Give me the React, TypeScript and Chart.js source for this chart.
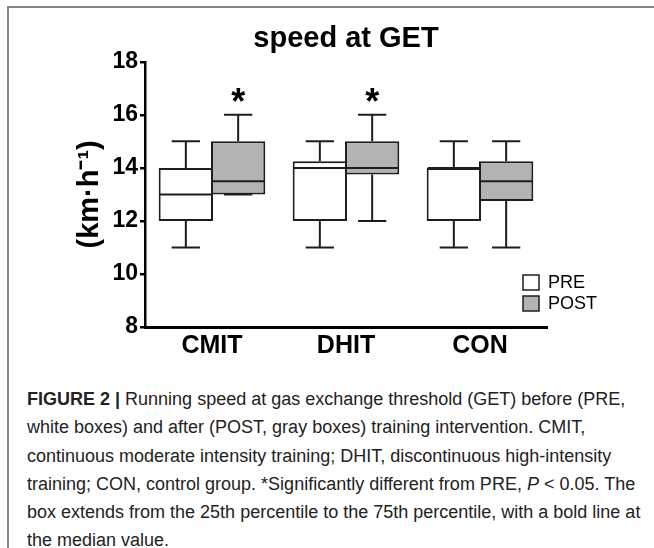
import React, { useEffect, useRef } from 'react';
import { Chart, registerables } from 'chart.js';

Chart.register(...registerables);

// ---- data ----
const chartTitle = 'speed at GET';
const yAxisTitle = '(km·h⁻¹)';
const categories = ['CMIT', 'DHIT', 'CON'];
const seriesLabels = ['PRE', 'POST'];
const yMin = 8;
const yMax = 18;
const yStep = 2;

const preMin = [11, 11, 11];
const preQ1 = [12, 12, 12];
const preMedian = [13, 14, 14];
const preQ3 = [14, 14.25, 14];
const preMax = [15, 15, 15];

const postMin = [13, 12, 11];
const postQ1 = [13, 13.75, 12.75];
const postMedian = [13.5, 14, 13.5];
const postQ3 = [15, 15, 14.25];
const postMax = [16, 16, 15];

const preSignificant = [false, false, false];
const postSignificant = [true, true, false];

const captionLines = [
  'Running speed at gas exchange threshold (GET) before (PRE,',
  'white boxes) and after (POST, gray boxes) training intervention. CMIT,',
  'continuous moderate intensity training; DHIT, discontinuous high-intensity',
  'training; CON, control group. *Significantly different from PRE, ',
  'box extends from the 25th percentile to the 75th percentile, with a bold line at',
  'the median value.',
];

// ---- styles ----
const FONT = '"Liberation Sans", Arial, Helvetica, sans-serif';
const INK = '#1e1e1e';
const PRE_FILL = '#ffffff';
const POST_FILL = '#b3b3b3';

const boxStats = [
  { min: preMin, q1: preQ1, med: preMedian, q3: preQ3, max: preMax, sig: preSignificant },
  { min: postMin, q1: postQ1, med: postMedian, q3: postQ3, max: postMax, sig: postSignificant },
];

const boxPlugin = {
  id: 'boxWhiskers',
  beforeDatasetsDraw(chart: any) {
    const ctx = chart.ctx;
    const y = chart.scales.y;
    ctx.save();
    ctx.strokeStyle = INK;
    ctx.lineWidth = 2;
    chart.data.datasets.forEach((_: any, di: number) => {
      const meta = chart.getDatasetMeta(di);
      const s = boxStats[di];
      meta.data.forEach((el: any, i: number) => {
        const x = el.x;
        const cap = el.width * 0.26;
        const pMax = y.getPixelForValue(s.max[i]);
        const pQ3 = y.getPixelForValue(s.q3[i]);
        const pQ1 = y.getPixelForValue(s.q1[i]);
        const pMin = y.getPixelForValue(s.min[i]);
        ctx.beginPath();
        ctx.moveTo(x, pQ3);
        ctx.lineTo(x, pMax);
        ctx.moveTo(x - cap, pMax);
        ctx.lineTo(x + cap, pMax);
        ctx.moveTo(x, pQ1);
        ctx.lineTo(x, pMin);
        ctx.moveTo(x - cap, pMin);
        ctx.lineTo(x + cap, pMin);
        ctx.stroke();
      });
    });
    ctx.restore();
  },
  afterDatasetsDraw(chart: any) {
    const ctx = chart.ctx;
    const y = chart.scales.y;
    const area = chart.chartArea;
    ctx.save();
    chart.data.datasets.forEach((ds: any, di: number) => {
      const meta = chart.getDatasetMeta(di);
      const s = boxStats[di];
      meta.data.forEach((el: any, i: number) => {
        const half = el.width / 2;
        const pMed = y.getPixelForValue(s.med[i]);
        ctx.strokeStyle = INK;
        ctx.lineWidth = 2;
        ctx.beginPath();
        ctx.moveTo(el.x - half + 1, pMed);
        ctx.lineTo(el.x + half - 1, pMed);
        ctx.stroke();
        if (s.sig[i]) {
          ctx.fillStyle = '#000';
          ctx.font = `bold 36px ${FONT}`;
          ctx.textAlign = 'center';
          ctx.textBaseline = 'alphabetic';
          ctx.fillText('*', el.x, y.getPixelForValue(s.max[i]) - 1);
        }
      });
      // legend entry
      const lx = area.right - 24;
      const ly = area.bottom - 52 + di * 21;
      ctx.fillStyle = ds.backgroundColor;
      ctx.fillRect(lx, ly, 16, 15);
      ctx.strokeStyle = INK;
      ctx.lineWidth = 1.5;
      ctx.strokeRect(lx, ly, 16, 15);
      ctx.fillStyle = '#000';
      ctx.font = `18px ${FONT}`;
      ctx.textAlign = 'left';
      ctx.textBaseline = 'middle';
      ctx.fillText(ds.label, lx + 25, ly + 8);
    });
    ctx.restore();
  },
};

function BoxChart() {
  const ref = useRef<HTMLCanvasElement | null>(null);
  useEffect(() => {
    if (!ref.current) return;
    const chart = new Chart(ref.current, {
      type: 'bar',
      data: {
        labels: categories,
        datasets: [
          {
            label: seriesLabels[0],
            data: categories.map((_, i) => [preQ1[i], preQ3[i]]) as any,
            backgroundColor: PRE_FILL,
            borderColor: INK,
            borderWidth: 2,
            borderSkipped: false,
            categoryPercentage: 0.781,
            barPercentage: 1.038,
          },
          {
            label: seriesLabels[1],
            data: categories.map((_, i) => [postQ1[i], postQ3[i]]) as any,
            backgroundColor: POST_FILL,
            borderColor: INK,
            borderWidth: 2,
            borderSkipped: false,
            categoryPercentage: 0.781,
            barPercentage: 1.038,
          },
        ],
      },
      options: {
        animation: false,
        responsive: false,
        devicePixelRatio: 1,
        events: [],
        layout: { padding: { left: 0, right: 107, top: 0, bottom: 15 } },
        plugins: {
          legend: { display: false },
          tooltip: { enabled: false },
          title: {
            display: true,
            fullSize: false,
            text: chartTitle,
            color: '#000',
            font: { family: FONT, size: 29, weight: 'bold' },
            padding: { top: 22, bottom: 5 },
          },
        },
        scales: {
          x: {
            grid: { display: false, drawTicks: false },
            border: { display: true, color: '#000', width: 3 },
            ticks: {
              color: '#000',
              font: { family: FONT, size: 25, weight: 'bold' },
              padding: 4,
            },
          },
          y: {
            min: yMin,
            max: yMax,
            ticks: {
              stepSize: yStep,
              color: '#000',
              font: { family: FONT, size: 23, weight: 'bold' },
              padding: 2,
            },
            grid: {
              drawOnChartArea: false,
              drawTicks: true,
              tickLength: 5,
              color: '#000',
              lineWidth: 2.5,
            },
            border: { display: true, color: '#000', width: 2.5 },
            title: {
              display: true,
              text: yAxisTitle,
              color: '#000',
              font: { family: FONT, size: 29, weight: 'bold' },
              padding: { top: 73, bottom: 0 },
            },
            afterFit: (scale: any) => {
              scale.width = 145;
            },
          },
        },
      },
      plugins: [boxPlugin],
    } as any);
    return () => chart.destroy();
  }, []);
  return <canvas ref={ref} width={654} height={380} style={{ display: 'block', width: 654, height: 380 }} />;
}

export default function App() {
  return (
    <div style={{ position: 'absolute', left: 0, top: 0, width: 654, height: 548, background: '#fff', overflow: 'hidden' }}>
      <div style={{ position: 'absolute', left: 0, top: 0 }}>
        <BoxChart />
      </div>
      <div style={{ position: 'absolute', left: 7, top: 6, width: 647, height: 2, background: '#858585' }} />
      <div style={{ position: 'absolute', left: 7, top: 6, width: 2, height: 542, background: '#858585' }} />
      <div
        style={{
          position: 'absolute',
          left: 27,
          top: 385,
          fontFamily: FONT,
          fontSize: 18,
          lineHeight: '28.3px',
          color: '#222',
          whiteSpace: 'nowrap',
        }}
      >
        <div>
          <b>FIGURE 2 |</b> {captionLines[0]}
        </div>
        <div>{captionLines[1]}</div>
        <div>{captionLines[2]}</div>
        <div>
          {captionLines[3]}
          <i>P</i> &lt; 0.05. The
        </div>
        <div>{captionLines[4]}</div>
        <div>{captionLines[5]}</div>
      </div>
    </div>
  );
}
